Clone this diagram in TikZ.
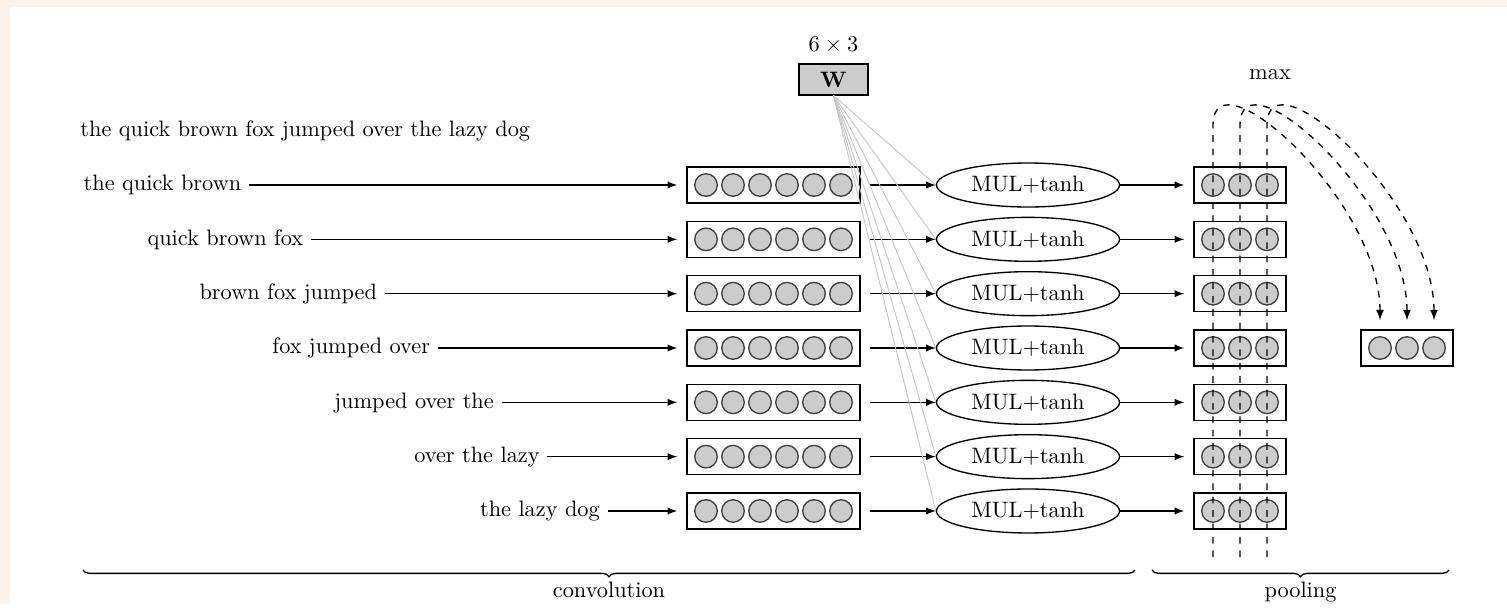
\documentclass[tikz,border=0pt]{standalone}
\usepackage{amsmath}
\usepackage{tikz}
\usetikzlibrary{shapes.geometric,decorations.pathreplacing}
\definecolor{pagebg}{RGB}{253,243,235}

\begin{document}
\begin{tikzpicture}[x=0.448pt,y=-0.448pt,>=latex,
	word/.style={inner sep=3.3pt,text height=1.6ex,text depth=0.4ex},
	vecbox/.style={draw,line width=0.6pt,minimum height=16.1pt,outer sep=4.4pt},
	unit/.style={circle,draw=black!75,fill=gray!40,line width=0.6pt,minimum size=10.1pt,inner sep=0pt},
	mulnode/.style={ellipse,draw,line width=0.6pt,minimum width=82pt,minimum height=19.7pt,inner sep=0pt},
	wbox/.style={draw,fill=gray!40,line width=0.6pt,minimum width=30.9pt,minimum height=13.9pt,inner sep=0pt},
	wire/.style={gray!45,line width=0.4pt},
	conn/.style={->,line width=0.5pt},
	maxline/.style={->,dashed,line width=0.6pt},
	bracket/.style={decorate,decoration={brace,mirror,amplitude=3pt},line width=0.6pt}]
	\fill[pagebg] (0,0) rectangle (1507,604);
	\fill[white] (10,7) rectangle (1507,604);
	\node (dims) at (833.5,45){$6\times 3$};
	\node (w) at (833.5,79.5)[wbox]{$\mathbf{W}$};
	\node (title) at (80,136)[anchor=base west,inner sep=0pt]{the quick brown fox jumped over the lazy dog};
	\foreach \txt [count=\i] in {the quick brown,quick brown fox,brown fox jumped,fox jumped over,jumped over the,over the lazy,the lazy dog}{
		\pgfmathsetmacro{\ry}{185+54.33*(\i-1)}
		\pgfmathsetmacro{\lx}{162.5+62.9*(\i-1)}
		\node (lab\i) at (\lx,\ry)[word]{\txt};
		\node (conv\i) at (773.5,\ry)[vecbox,minimum width=77.5pt]{};
		\foreach \k in {1,...,6}
			\node (c\i-\k) at (679+27*\k,\ry)[unit]{};
		\node (mul\i) at (1028,\ry)[mulnode]{MUL+tanh};
		\node (pool\i) at (1240,\ry)[vecbox,minimum width=41.2pt]{};
		\foreach \k in {1,2,3}
			\node (p\i-\k) at (1186+27*\k,\ry)[unit]{};
		\draw[wire] (w.south) -- (mul\i.west);
		\draw[conn] (lab\i) -- (conv\i);
		\draw[conn] (conv\i) -- (mul\i);
		\draw[conn] (mul\i) -- (pool\i);
	}
	\node (out) at (1407,348)[vecbox,minimum width=41.2pt]{};
	\foreach \k in {1,2,3}
		\node (o\k) at (1353+27*\k,348)[unit]{};
	\foreach \x [count=\k] in {1213,1240,1267}{
		\coordinate (foot\k) at (\x,557);
		\draw[maxline] (foot\k) -- (\x,125) .. controls (\x,50) and (\x+167,200) .. (o\k |- out.north);
	}
	\node (max) at (1270,75){max};
	\coordinate (convl) at (83,570);
	\coordinate (convr) at (1135,570);
	\coordinate (pooll) at (1152,570);
	\coordinate (poolr) at (1449,570);
	\draw[bracket] (convl) -- (convr);
	\draw[bracket] (pooll) -- (poolr);
	\node (convlab) at (609,597)[anchor=base]{convolution};
	\node (poollab) at (1300.5,597)[anchor=base]{pooling};
\end{tikzpicture}
\end{document}
